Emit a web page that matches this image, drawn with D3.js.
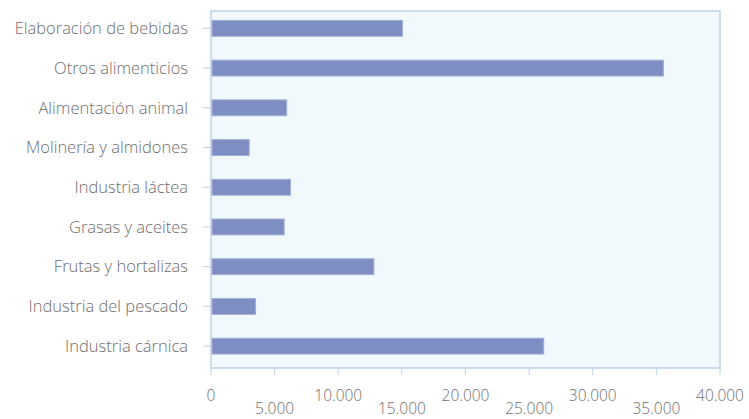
<!DOCTYPE html>
<html>
<head>
<meta charset="utf-8">
<script src="https://cdn.jsdelivr.net/npm/d3@7"></script>
<style>
  body { margin: 0; background: #fff; }
  text { font-family: 'Open Sans', sans-serif; font-weight: 300; fill: #6e6e6e; }
</style>
</head>
<body>
<svg width="749" height="419"></svg>
<script>
const categories = [
  'Elaboración de bebidas',
  'Otros alimenticios',
  'Alimentación animal',
  'Molinería y almidones',
  'Industria láctea',
  'Grasas y aceites',
  'Frutas y hortalizas',
  'Industria del pescado',
  'Industria cárnica'
]
const values = [15050, 35550, 5950, 3000, 6250, 5750, 12800, 3500, 26150]
const tickValues = [0, 5000, 10000, 15000, 20000, 25000, 30000, 35000, 40000]

const svg = d3.select('svg')
const plotLeft = 211
const plotRight = 720
const plotTop = 11
const plotBottom = 368

const x = d3.scaleLinear()
  .domain([0, 40000])
  .range([plotLeft, plotRight])

const y = d3.scaleBand()
  .domain(categories)
  .range([8.5, 366])
  .paddingInner(0.6)
  .paddingOuter(0.3)

const fmt = d => d === 0 ? '0' : d3.format(',')(d).replace(/,/g, '.')

// plot area
svg.append('rect')
  .attr('x', plotLeft)
  .attr('y', plotTop)
  .attr('width', plotRight - plotLeft)
  .attr('height', plotBottom - plotTop)
  .attr('fill', '#f2f9fd')
  .attr('stroke', '#bcd3e8')
  .attr('stroke-width', 1.5)

// x ticks
svg.append('g')
  .selectAll('line')
  .data(tickValues)
  .enter().append('line')
  .attr('x1', d => x(d))
  .attr('x2', d => x(d))
  .attr('y1', plotBottom)
  .attr('y2', plotBottom + 7)
  .attr('stroke', '#bcd3e8')
  .attr('stroke-width', 1)

// staggered tick labels
svg.append('g')
  .selectAll('text')
  .data(tickValues)
  .enter().append('text')
  .attr('x', d => x(d))
  .attr('y', (d, i) => i % 2 === 0 ? 401 : 414)
  .attr('text-anchor', 'middle')
  .attr('font-size', 15.5)
  .text(fmt)

// y ticks and labels
const yg = svg.append('g')
yg.selectAll('line')
  .data(categories)
  .enter().append('line')
  .attr('x1', plotLeft - 8)
  .attr('x2', plotLeft)
  .attr('y1', d => y(d) + y.bandwidth() / 2)
  .attr('y2', d => y(d) + y.bandwidth() / 2)
  .attr('stroke', '#bcd3e8')

yg.selectAll('text')
  .data(categories)
  .enter().append('text')
  .attr('x', 188)
  .attr('y', d => y(d) + y.bandwidth() / 2)
  .attr('dy', '0.35em')
  .attr('text-anchor', 'end')
  .attr('font-size', 16.5)
  .text(d => d)

// bars
svg.append('g')
  .selectAll('rect')
  .data(categories)
  .enter().append('rect')
  .attr('x', x(0) + 1)
  .attr('y', d => y(d))
  .attr('width', (d, i) => x(values[i]) - x(0) - 1)
  .attr('height', y.bandwidth())
  .attr('fill', '#7e8dc2')
  .attr('stroke', '#a3b0d8')
  .attr('stroke-width', 1)
</script>
</body>
</html>
